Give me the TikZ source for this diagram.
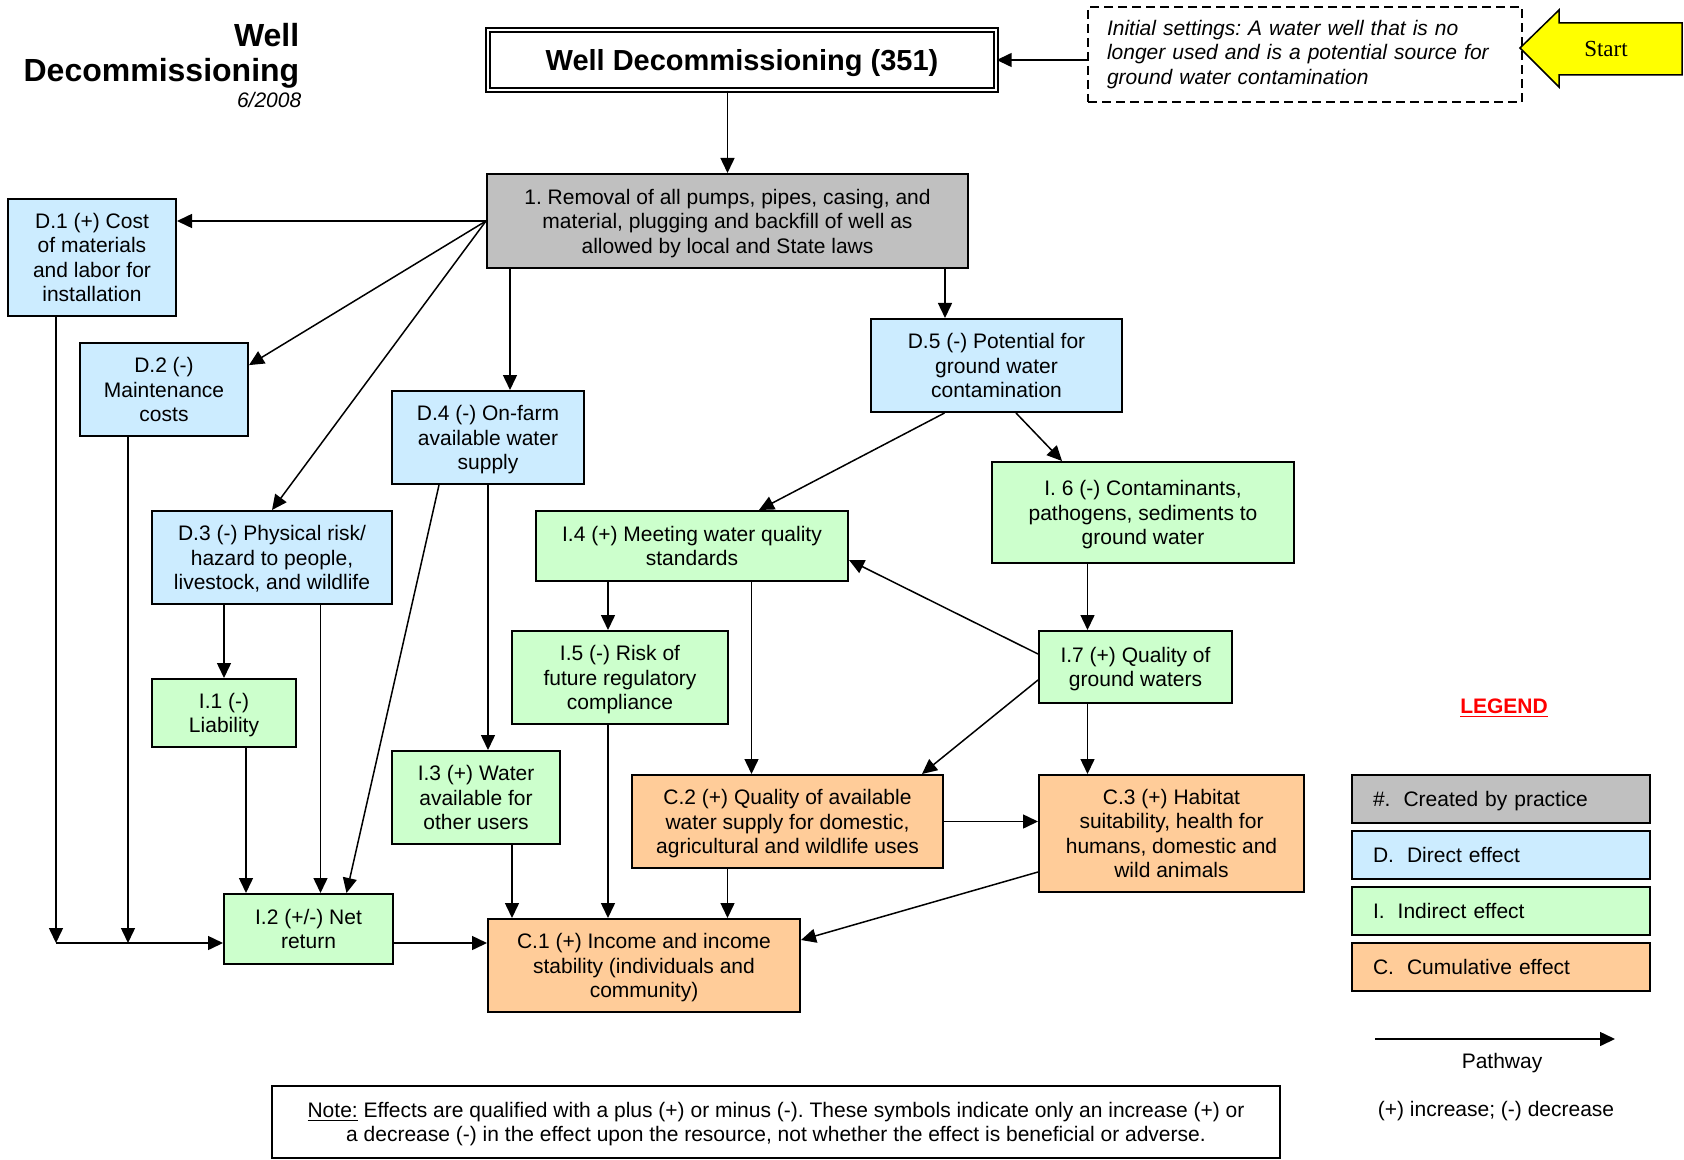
\documentclass[tikz,border=0pt]{standalone}
\usepackage{fontspec}
\setmainfont{Liberation Sans}
\newfontfamily\serifstart{Liberation Serif}
\usetikzlibrary{arrows.meta, positioning}
\definecolor{practicegray}{HTML}{C0C0C0}
\definecolor{directblue}{HTML}{CCECFF}
\definecolor{indirectgreen}{HTML}{CCFFCC}
\definecolor{cumulorange}{HTML}{FFCC99}
\definecolor{startyellow}{HTML}{FFFF00}
\definecolor{legendred}{HTML}{FF0000}
\newcommand{\boxfont}{\fontsize{10.5}{12.2}\selectfont}
\frenchspacing

\tikzset{
  effect/.style={draw, line width=1pt, align=center, inner sep=0pt, text depth=0pt, font=\boxfont},
  practicebox/.style={effect, fill=practicegray},
  directbox/.style={effect, fill=directblue},
  indirectbox/.style={effect, fill=indirectgreen},
  cumulbox/.style={effect, fill=cumulorange},
  legendbox/.style={draw, line width=1pt, align=left, text width=128pt, inner xsep=10.5pt, minimum height=24pt, text depth=0pt, font=\boxfont},
}

\begin{document}
\begin{tikzpicture}[x=0.5pt, y=-0.5pt, >={Triangle[length=7.5pt,width=7pt]}, line width=0.75pt]
        \useasboundingbox (0,0) rectangle (1684,1160);

        % heading
        \node (welltop) [anchor=base east, inner sep=0pt, font=\bfseries\fontsize{16}{19}\selectfont] at (300,47) {Well};
        \node (wellbottom) [anchor=base east, inner sep=0pt, font=\bfseries\fontsize{16}{19}\selectfont] at (300,82) {Decommissioning};
        \node (date) [anchor=base east, inner sep=0pt, font=\itshape\boxfont] at (302,108) {6/2008};

        \node (title) [draw, double, double distance=1.4pt, line width=0.7pt, minimum width=254pt, minimum height=30pt, text depth=0pt, font=\bfseries\fontsize{14.5}{17}\selectfont] at (742,60) {Well Decommissioning (351)};
        \node (init) [draw, dash pattern=on 4.5pt off 2.5pt, line width=0.75pt, align=left, text width=198pt, inner xsep=9.5pt, minimum height=47.5pt, font=\itshape\boxfont] at (1305,54.5) {Initial settings: A water well that is no\\longer used and is a potential source for\\ground water contamination};

        \draw [line width=0.75pt, fill=startyellow] (1520,48) -- (1559,10) -- (1559,23) -- (1682,23) -- (1682,75) -- (1559,75) -- (1559,87) -- cycle;
        \node (start) [font=\serifstart\fontsize{11.5}{13}\selectfont] at (1606,49.5) {Start};

        % practice
        \node (removal) [practicebox, minimum width=240.5pt, minimum height=47pt] at (727.5,221) {1. Removal of all pumps, pipes, casing, and\\material, plugging and backfill of well as\\allowed by local and State laws};

        % direct effects
        \node (d1) [directbox, minimum width=84pt, minimum height=58.5pt] at (92,257.5) {D.1 (+) Cost\\of materials\\and labor for\\installation};
        \node (d2) [directbox, minimum width=84pt, minimum height=46.5pt] at (164,389.5) {D.2 (-)\\Maintenance\\costs};
        \node (d3) [directbox, minimum width=120pt, minimum height=46.5pt] at (272,557.5) {D.3 (-) Physical risk/\\hazard to people,\\livestock, and wildlife};
        \node (d4) [directbox, minimum width=96pt, minimum height=46.5pt] at (488,437.5) {D.4 (-) On-farm\\available water\\supply};
        \node (d5) [directbox, minimum width=125.5pt, minimum height=46.5pt] at (996.5,365.5) {D.5 (-) Potential for\\ground water\\contamination};

        % indirect effects
        \node (i1) [indirectbox, minimum width=72pt, minimum height=34pt] at (224,713) {I.1 (-)\\Liability};
        \node (i2) [indirectbox, minimum width=84.5pt, minimum height=35pt] at (308.5,929) {I.2 (+/-) Net\\return};
        \node (i3) [indirectbox, minimum width=84pt, minimum height=46.5pt] at (476,797.5) {I.3 (+) Water\\available for\\other users};
        \node (i4) [indirectbox, minimum width=156pt, minimum height=35pt] at (692,546) {I.4 (+) Meeting water quality\\standards};
        \node (i5) [indirectbox, minimum width=108pt, minimum height=46.5pt] at (620,677.5) {I.5 (-) Risk of\\future regulatory\\compliance};
        \node (i6) [indirectbox, minimum width=151pt, minimum height=50.5pt] at (1143,512.5) {I. 6 (-) Contaminants,\\pathogens, sediments to\\ground water};
        \node (i7) [indirectbox, minimum width=96.5pt, minimum height=36pt] at (1135.5,667) {I.7 (+) Quality of\\ground waters};

        % cumulative effects
        \node (c1) [cumulbox, minimum width=156pt, minimum height=46.5pt] at (644,965.5) {C.1 (+) Income and income\\stability (individuals and\\community)};
        \node (c2) [cumulbox, minimum width=155.5pt, minimum height=46.5pt] at (787.5,821.5) {C.2 (+) Quality of available\\water supply for domestic,\\agricultural and wildlife uses};
        \node (c3) [cumulbox, minimum width=132.5pt, minimum height=58.5pt] at (1171.5,833.5) {C.3 (+) Habitat\\suitability, health for\\humans, domestic and\\wild animals};

        \coordinate (joint) at (56,943);
        \coordinate (joint2) at (128,943);

        % pathways
        \draw [->] (title.east -| init.west) -- (title.east);
        \draw [->] (title.south -| removal.north) -- (removal.north);
        \draw [->] (removal.west) -- (removal.west -| d1.east);
        \draw [->] (removal.west) -- (d2.16);
        \draw [->] (removal.west) -- (d3.north);
        \draw [->] ([xshift=12pt]removal.south west) -- ([xshift=12pt]removal.south west |- d4.north);
        \draw [->] ([xshift=-12pt]removal.south east) -- ([xshift=-12pt]removal.south east |- d5.north);

        \draw [->] (d1.south -| joint) -- (joint);
        \draw [->] (d2.south -| joint2) -- (joint2);
        \draw [->] (joint) -- (joint -| i2.west);
        \draw [->] (d3.south -| i1.north) -- (i1.north);
        \draw [->] ([xshift=6pt]i2.north |- d3.south) -- ([xshift=6pt]i2.north);
        \draw [->] ([xshift=11pt]i1.south) -- ([xshift=11pt]i1.south |- i2.north);
        \draw [->] ([xshift=-24.5pt]d4.south) -- ([xshift=19pt]i2.north);
        \draw [->] (d4.south) -- (d4.south |- i3.north);

        \draw [->] ([xshift=-26pt]d5.south) -- ([xshift=33.5pt]i4.north);
        \draw [->] ([xshift=9.75pt]d5.south) -- ([xshift=-40.5pt]i6.north);
        \draw [->] ([xshift=-24pt]i7.north |- i6.south) -- ([xshift=-24pt]i7.north);
        \draw [->] ([yshift=6.5pt]i7.west) -- ([yshift=-7pt]i4.east);
        \draw [->] ([yshift=-6.5pt]i7.west) -- ([xshift=-11pt]c2.north east);
        \draw [->] ([xshift=-24pt]i7.south) -- ([xshift=-24pt]i7.south |- c3.north);
        \draw [->] ([xshift=-6pt]i5.north |- i4.south) -- ([xshift=-6pt]i5.north);
        \draw [->] ([xshift=-18pt]c2.north |- i4.south) -- ([xshift=-18pt]c2.north);

        \draw [->] ([xshift=-6pt]i5.south) -- ([xshift=-6pt]i5.south |- c1.north);
        \draw [->] ([xshift=18pt]i3.south) -- ([xshift=18pt]i3.south |- c1.north);
        \draw [->] ([xshift=-30pt]c2.south) -- ([xshift=-30pt]c2.south |- c1.north);
        \draw [->] (c2.east) -- (c2.east -| c3.west);
        \draw [->] ([yshift=-19.25pt]c3.west) -- ([yshift=12.75pt]c1.east);
        \draw [->] (i2.east |- joint) -- (c1.west |- joint);

        % legend
        \node (legend) [anchor=base, inner sep=0pt, text=legendred, font=\bfseries\boxfont] at (1504,713) {\underline{LEGEND}};
        \node (legpractice) [legendbox, fill=practicegray] at (1501,798.5) {\#.\hspace{6.5pt}Created by practice};
        \node (legdirect) [legendbox, fill=directblue] at (1501,855) {D.\hspace{6.5pt}Direct effect};
        \node (legindirect) [legendbox, fill=indirectgreen] at (1501,911) {I.\hspace{6.5pt}Indirect effect};
        \node (legcumul) [legendbox, fill=cumulorange] at (1501,966.5) {C.\hspace{6.5pt}Cumulative effect};

        \coordinate (pathA) at (1375,1039);
        \coordinate (pathB) at (1615,1039);
        \draw [->] (pathA) -- (pathB);
        \node (pathlabel) [font=\boxfont] at (1502,1063) {Pathway};
        \node (signs) [font=\boxfont] at (1496,1111) {(+) increase; (-) decrease};

        \node (note) [draw, line width=1pt, minimum width=504pt, minimum height=36pt, align=center, inner sep=0pt, text depth=0pt, font=\boxfont] at (776,1122) {\underline{Note:} Effects are qualified with a plus (+) or minus (-). These symbols indicate only an increase (+) or\\a decrease (-) in the effect upon the resource, not whether the effect is beneficial or adverse.};
    \end{tikzpicture}
\end{document}
